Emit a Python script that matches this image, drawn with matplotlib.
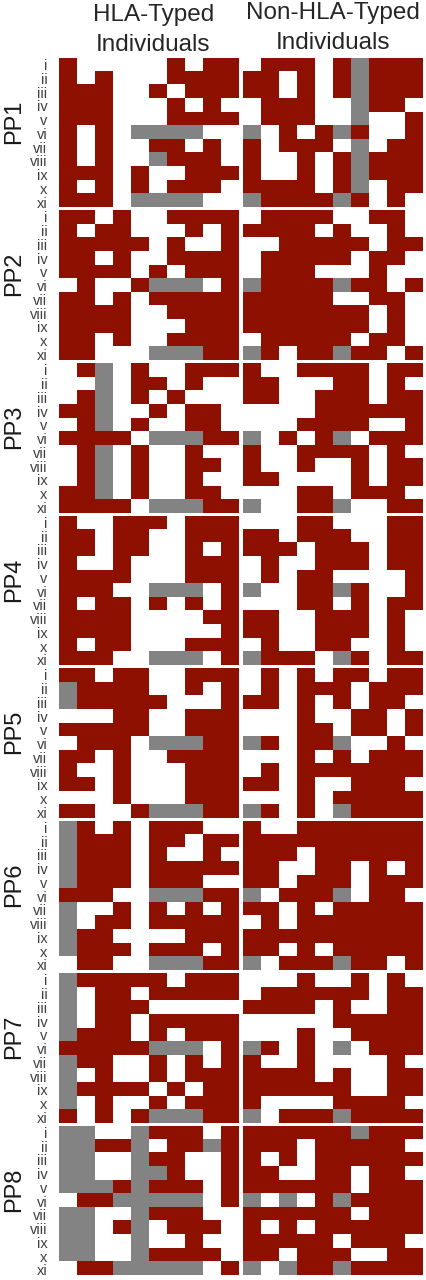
import matplotlib
matplotlib.use("Agg")
import matplotlib.pyplot as plt
from matplotlib.colors import ListedColormap
import numpy as np

plt.rcParams['font.family'] = ['Liberation Sans', 'DejaVu Sans']

row_labels = ['i', 'ii', 'iii', 'iv', 'v', 'vi', 'vii', 'viii', 'ix', 'x', 'xi']
panel_names = ['PP1', 'PP2', 'PP3', 'PP4', 'PP5', 'PP6', 'PP7', 'PP8']

# 0 = no response, 1 = response, 2 = not tested
PP1_hla = ['1000001011','1010001111','1110010111','1110001010','1110001111','1010222200','1010011010','1010021110','1110100111','1010101110','1110222200']
PP1_non = ['0111012111','1101012111','1101012111','0111002110','0111002001','2010121001','1011102011','1001012111','1001012111','1111012011','2111121010']
PP2_hla = ['1101001111','1011000101','1111101001','1101001111','1111010111','0100122201','1101011111','1111001111','1111000111','1101001111','1100022211']
PP2_non = ['0111100110','1111010010','0011111011','0111110110','0111000100','2111121101','1111100110','1111111010','1111111010','0111110110','2101121101']
PP3_hla = ['0120100111','0020110100','0120101000','1120010110','0120100110','1111022211','0120100100','0120100110','0120100100','1120100110','1111022211']
PP3_non = ['1001111011','1100011010','1100111011','0000111111','0001111001','2010120111','1001111010','1001001011','1100001011','0001101110','2001120011']
PP4_hla = ['1001110111','1101100111','1101100101','1001000111','1111000111','1110022201','1011010101','1111000011','1111000001','1011000111','1110022201']
PP4_non = ['0001100011','1101110011','1110111011','0100111011','0101100001','2001121001','0001101011','1100111010','1100111010','0100110010','2111021011']
PP5_hla = ['1101100111','2111100101','2111110001','0001100111','1111100111','0111022211','1101001111','1001000111','1101000111','0001000111','1100122211']
PP5_non = ['0101011011','0101110111','1101010110','0001001101','0001101101','2101120010','0001010111','0101111111','1101001110','0001011111','2101021111']
PP6_hla = ['2101011100','2111011011','2111010010','2111011111','2111011100','1110022211','2001010101','2011011111','2110000111','2111011101','0110022211']
PP6_non = ['1001111111','1111111111','1110111111','1100110101','1101110111','2011120110','1101011111','0101111111','1111111111','1101011111','2011121101']
PP7_hla = ['2111110111','2011011111','2011100000','2011011111','2111010111','1111122201','2110010101','2010010111','2111101011','2010010111','1010122211']
PP7_non = ['0001001010','0111111011','1111010011','0000011111','0001001111','2101020111','1001000010','1111010011','1111110011','1000011110','2011121111']
PP8_hla = ['2200211101','2211201121','2200211001','2200221001','2221211101','0112222201','2200211100','2201201110','2200200100','2200211110','0112222201']
PP8_non = ['1111112111','1110111110','1010111111','1100110110','1111110111','2020121111','1111110111','1010111111','1111101110','1101110011','2021121111']

hla_panels = [PP1_hla, PP2_hla, PP3_hla, PP4_hla, PP5_hla, PP6_hla, PP7_hla, PP8_hla]
non_panels = [PP1_non, PP2_non, PP3_non, PP4_non, PP5_non, PP6_non, PP7_non, PP8_non]

W, H = 427, 1280
fig = plt.figure(figsize=(W / 100, H / 100), dpi=100, facecolor='white')
cmap = ListedColormap(['#ffffff', '#8e1000', '#838383'])

panel_tops = [57.7, 210, 363, 515.5, 668, 820.5, 973, 1125.5]
panel_h = 149.8


def add_axes_px(x0, x1, y0, y1):
    return fig.add_axes([x0 / W, 1 - y1 / H, (x1 - x0) / W, (y1 - y0) / H])


def draw(ax, rows):
    arr = np.array([[int(c) for c in r] for r in rows])
    ax.imshow(arr, cmap=cmap, vmin=0, vmax=2, aspect='auto', interpolation='nearest')
    for s in ax.spines.values():
        s.set_visible(False)
    ax.set_xticks([])


for name, top, hla, non in zip(panel_names, panel_tops, hla_panels, non_panels):
    a1 = add_axes_px(59, 239, top, top + panel_h)
    draw(a1, hla)
    a1.set_yticks(np.arange(len(row_labels)) * 1.01)
    a1.set_yticklabels(row_labels, fontsize=10.5, color='#404040')
    a1.tick_params(axis='y', length=0, pad=8.3)
    a1.set_ylim(10.5, -0.5)
    a2 = add_axes_px(243, 423, top, top + panel_h)
    draw(a2, non)
    a2.set_yticks([])
    fig.text(14 / W, 1 - (top + panel_h / 2 - 11) / H, name, rotation=90,
             ha='center', va='center', fontsize=17, color='#1a1a1a')

title_color = '#262626'
fig.text(153.5 / W, 1 - 20.7 / H, 'HLA-Typed', ha='center', va='baseline', fontsize=17.5, color=title_color)
fig.text(153.5 / W, 1 - 50.7 / H, 'Individuals', ha='center', va='baseline', fontsize=17.5, color=title_color)
fig.text(333 / W, 1 - 19 / H, 'Non-HLA-Typed', ha='center', va='baseline', fontsize=17.5, color=title_color)
fig.text(333 / W, 1 - 49 / H, 'Individuals', ha='center', va='baseline', fontsize=17.5, color=title_color)

fig.savefig('out.png', dpi=100, facecolor='white')
